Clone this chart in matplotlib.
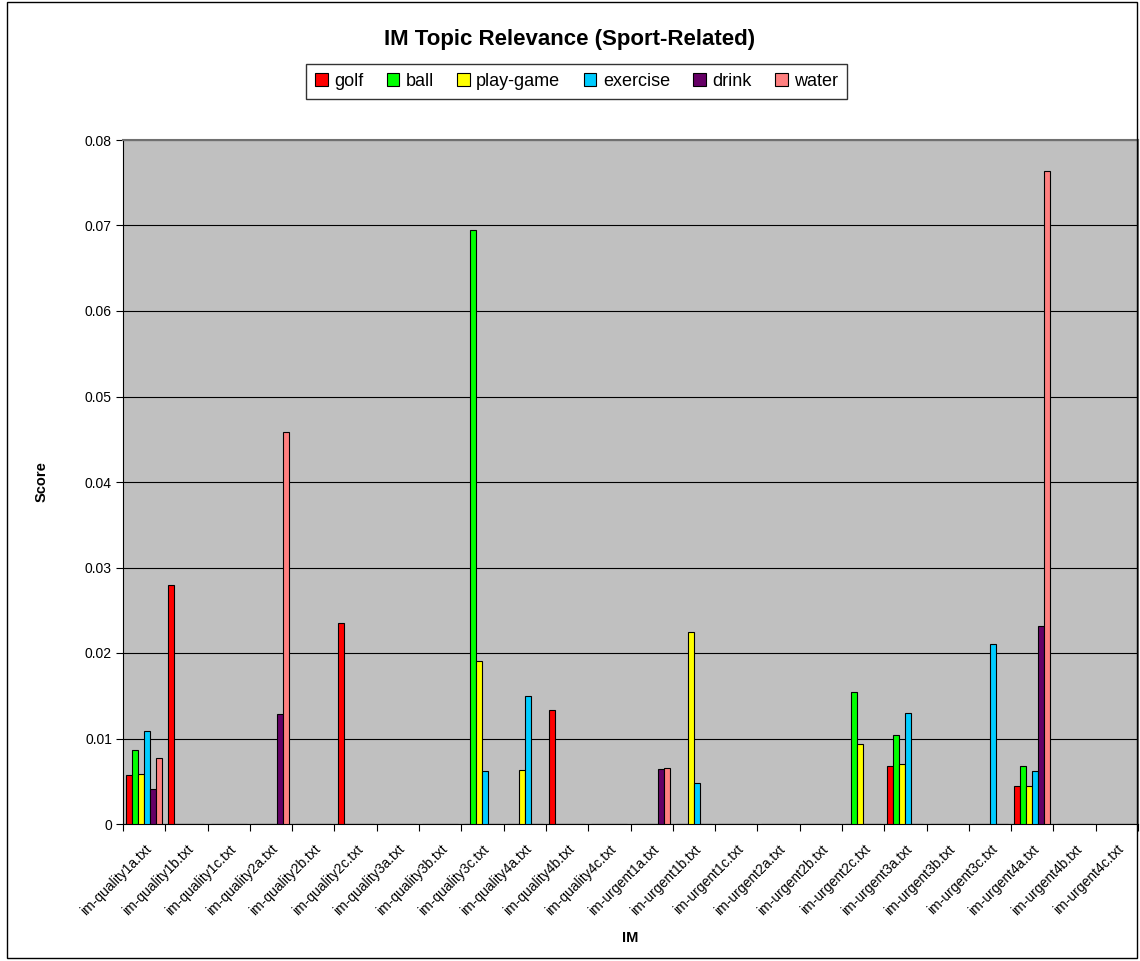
import matplotlib
matplotlib.use("Agg")
import matplotlib.pyplot as plt
import matplotlib.transforms as mtransforms
import numpy as np
from matplotlib.patches import Rectangle, Patch
from matplotlib.ticker import FuncFormatter, FixedLocator

plt.rcParams['font.family'] = ['Liberation Sans', 'DejaVu Sans']

files = [
    "im-quality1a.txt", "im-quality1b.txt", "im-quality1c.txt",
    "im-quality2a.txt", "im-quality2b.txt", "im-quality2c.txt",
    "im-quality3a.txt", "im-quality3b.txt", "im-quality3c.txt",
    "im-quality4a.txt", "im-quality4b.txt", "im-quality4c.txt",
    "im-urgent1a.txt", "im-urgent1b.txt", "im-urgent1c.txt",
    "im-urgent2a.txt", "im-urgent2b.txt", "im-urgent2c.txt",
    "im-urgent3a.txt", "im-urgent3b.txt", "im-urgent3c.txt",
    "im-urgent4a.txt", "im-urgent4b.txt", "im-urgent4c.txt",
]

golf = [0.0057, 0.0280, 0, 0, 0, 0.0235, 0, 0, 0, 0, 0.0133, 0,
        0, 0, 0, 0, 0, 0, 0.0068, 0, 0, 0.0044, 0, 0]
ball = [0.0086, 0, 0, 0, 0, 0, 0, 0, 0.0695, 0, 0, 0,
        0, 0, 0, 0, 0, 0.0154, 0.0104, 0, 0, 0.0068, 0, 0]
play_game = [0.0059, 0, 0, 0, 0, 0, 0, 0, 0.0191, 0.0063, 0, 0,
             0, 0.0224, 0, 0, 0, 0.0094, 0.0070, 0, 0, 0.0045, 0, 0]
exercise = [0.0109, 0, 0, 0, 0, 0, 0, 0, 0.0062, 0.0150, 0, 0,
            0, 0.0048, 0, 0, 0, 0, 0.0130, 0, 0.0210, 0.0062, 0, 0]
drink = [0.0041, 0, 0, 0.0129, 0, 0, 0, 0, 0, 0, 0, 0,
         0.0064, 0, 0, 0, 0, 0, 0, 0, 0, 0.0232, 0, 0]
water = [0.0077, 0, 0, 0.0458, 0, 0, 0, 0, 0, 0, 0, 0,
         0.0065, 0, 0, 0, 0, 0, 0, 0, 0, 0.0764, 0, 0]

series_names = ["golf", "ball", "play-game", "exercise", "drink", "water"]
series_values = [golf, ball, play_game, exercise, drink, water]
series_colors = ["#FF0000", "#00FF00", "#FFFF00", "#00CCFF", "#660066", "#FF8080"]

W, H = 1140, 961
fig = plt.figure(figsize=(W / 100, H / 100), dpi=100)
fig.patch.set_facecolor("white")

# outer chart frame
fig.add_artist(Rectangle((7 / W, 1 - 958 / H), (1137 - 7) / W, (958 - 2) / H,
                         transform=fig.transFigure, fill=False,
                         edgecolor="black", linewidth=1.0))

left, right, top, bottom = 123, 1138, 140, 824
ax = fig.add_axes([left / W, 1 - bottom / H, (right - left) / W, (bottom - top) / H])
ax.set_facecolor("#C0C0C0")

x = np.arange(len(files))
bw = 0.142
for i, (vals, col) in enumerate(zip(series_values, series_colors)):
    ax.bar(x + (i - 2.5) * bw, vals, width=bw, color=col,
           edgecolor="black", linewidth=0.8, zorder=3)

ax.set_xlim(-0.5, len(files) - 0.5)
ax.set_ylim(0, 0.08)
ax.set_yticks(np.arange(0, 0.081, 0.01))
ax.yaxis.set_major_formatter(FuncFormatter(lambda v, p: "0" if abs(v) < 1e-12 else f"{v:.2f}"))
ax.yaxis.grid(True, color="black", linewidth=0.8, zorder=1)
ax.set_axisbelow(True)

ax.set_xticks(x)
ax.set_xticklabels(files, rotation=45, ha="right", va="top",
                   rotation_mode="anchor", fontsize=10)
shift = mtransforms.ScaledTranslation(-3 / 100, 0, fig.dpi_scale_trans)
for lbl in ax.get_xticklabels():
    lbl.set_transform(lbl.get_transform() + shift)
ax.xaxis.set_minor_locator(FixedLocator(np.arange(len(files) + 1) - 0.5))
ax.tick_params(axis="x", which="major", length=0, pad=13)
ax.tick_params(axis="x", which="minor", length=5, width=0.8, direction="out")
ax.tick_params(axis="y", which="major", length=5, width=0.8, direction="out",
               labelsize=10, pad=3)

for s in ["left", "bottom"]:
    ax.spines[s].set_color("black")
    ax.spines[s].set_linewidth(0.8)
for s in ["top", "right"]:
    ax.spines[s].set_color("#707070")
    ax.spines[s].set_linewidth(1.5)

ax.set_xlabel("IM", fontsize=10.5, fontweight="bold", labelpad=9)
ax.set_ylabel("Score", fontsize=10.5, fontweight="bold", labelpad=26)

fig.text(570 / W, 1 - 40 / H, "IM Topic Relevance (Sport-Related)",
         ha="center", va="center", fontsize=16, fontweight="bold")

handles = [Patch(facecolor=c, edgecolor="black", linewidth=0.8) for c in series_colors]
leg = fig.legend(handles, series_names, loc="center",
                 bbox_to_anchor=(576.5 / W, 1 - 81.5 / H), ncol=6,
                 fontsize=13, frameon=True, fancybox=False,
                 handlelength=0.7, handleheight=0.7, handletextpad=0.35,
                 columnspacing=1.3, borderpad=0.5)
leg.get_frame().set_edgecolor("black")
leg.get_frame().set_linewidth(1.0)

fig.savefig("out.png", dpi=100)
